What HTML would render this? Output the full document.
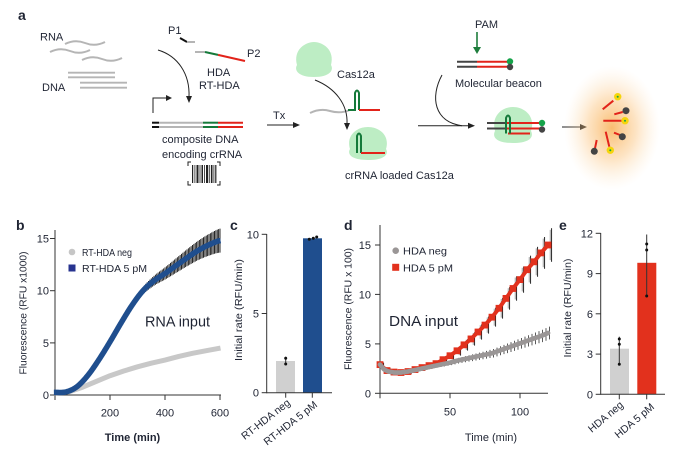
<!DOCTYPE html>
<html><head><meta charset="utf-8"><style>
html,body{margin:0;padding:0;background:#fff;}
svg{display:block;font-family:"Liberation Sans",sans-serif;}
text{fill:#1f2433;}
</style></head><body>
<svg id="s" xmlns="http://www.w3.org/2000/svg" width="673" height="455" viewBox="0 0 673 455">
<defs>
<radialGradient id="glow" cx="0.5" cy="0.5" r="0.5">
<stop offset="0" stop-color="#f7a640" stop-opacity="0.75"/>
<stop offset="0.5" stop-color="#fbc27a" stop-opacity="0.45"/>
<stop offset="1" stop-color="#fde3c0" stop-opacity="0"/>
</radialGradient>
</defs>
<rect width="673" height="455" fill="#fff"/>

<!-- ===== Panel a ===== -->
<text x="18" y="20" font-size="14" font-weight="bold">a</text>
<text x="40" y="40.5" font-size="11">RNA</text>
<text x="42" y="91" font-size="11">DNA</text>
<g fill="none" stroke="#b5b5b5" stroke-width="2">
<path d="M65,44 Q75,39 85,43 T105,42"/>
<path d="M50,52 Q60,47 70,51 T90,50"/>
<path d="M82,60 Q92,55 102,59 T122,58"/>
<path d="M310,113 Q320,108 330,111 T350,110"/>
</g>
<g stroke="#b5b5b5" stroke-width="1.8">
<line x1="68" y1="72.7" x2="115" y2="72.7"/><line x1="68" y1="77.3" x2="115" y2="77.3"/>
<line x1="80" y1="82.7" x2="127" y2="82.7"/><line x1="80" y1="87.7" x2="127" y2="87.7"/>
</g>
<text x="168" y="34" font-size="11">P1</text>
<line x1="180" y1="38" x2="187" y2="42" stroke="#111" stroke-width="2"/>
<line x1="187" y1="42" x2="195" y2="42" stroke="#b5b5b5" stroke-width="2"/>
<line x1="195" y1="52" x2="205" y2="52" stroke="#b5b5b5" stroke-width="2"/>
<line x1="205" y1="52" x2="218" y2="54.9" stroke="#157a3a" stroke-width="2"/>
<line x1="218" y1="54.9" x2="245" y2="61" stroke="#e2231a" stroke-width="2"/>
<text x="247" y="57" font-size="11">P2</text>
<text x="207" y="76" font-size="11">HDA</text>
<text x="199" y="89" font-size="11">RT-HDA</text>
<path d="M158,50 C178,56 190,74 189,97" fill="none" stroke="#222" stroke-width="1"/>
<path d="M186,96 L189,103 L192,96 Z" fill="#222"/>
<path d="M153,113 V98 H167" fill="none" stroke="#222" stroke-width="1"/>
<path d="M166,95 L172,98 L166,101 Z" fill="#222"/>
<g stroke-width="2">
<line x1="152" y1="122.7" x2="159" y2="122.7" stroke="#111"/><line x1="152" y1="127" x2="159" y2="127" stroke="#111"/>
<line x1="159" y1="122.7" x2="203" y2="122.7" stroke="#b5b5b5"/><line x1="159" y1="127" x2="203" y2="127" stroke="#b5b5b5"/>
<line x1="203" y1="122.7" x2="218" y2="122.7" stroke="#157a3a"/><line x1="203" y1="127" x2="218" y2="127" stroke="#157a3a"/>
<line x1="218" y1="122.7" x2="243" y2="122.7" stroke="#e2231a"/><line x1="218" y1="127" x2="243" y2="127" stroke="#e2231a"/>
</g>
<text x="162" y="143" font-size="11">composite DNA</text>
<text x="162" y="158" font-size="11">encoding crRNA</text>
<g stroke="#222" stroke-width="1" fill="none">
<path d="M188,166 V162 H191"/><path d="M217,162 H220 V166"/><path d="M188,181 V185 H191"/><path d="M217,185 H220 V181"/>
</g>
<g fill="#222">
<rect x="192" y="165" width="1.2" height="18"/><rect x="194.5" y="165" width="0.8" height="18"/><rect x="196.5" y="165" width="2" height="18"/>
<rect x="199.6" y="165" width="0.8" height="18"/><rect x="201.5" y="165" width="1.5" height="18"/><rect x="204" y="165" width="0.8" height="18"/>
<rect x="206" y="165" width="2.2" height="18"/><rect x="209.3" y="165" width="0.8" height="18"/><rect x="211" y="165" width="1.5" height="18"/>
<rect x="213.5" y="165" width="0.8" height="18"/><rect x="215.2" y="165" width="1.2" height="18"/>
</g>
<text x="273" y="119" font-size="11">Tx</text>
<line x1="267" y1="125" x2="295" y2="125" stroke="#222" stroke-width="1"/>
<path d="M293,122 L300,125 L293,128 Z" fill="#222"/>

<!-- Cas12a blob -->
<path d="M297,65 C293,50 305,42 314,42 C323,42 335,50 331,65 C334,70 330,77 314,77 C298,77 294,70 297,65 Z" fill="#bdedc4"/>
<text x="337" y="78" font-size="11">Cas12a</text>
<path d="M315,80 C335,88 348,104 347,124" fill="none" stroke="#222" stroke-width="1"/>
<path d="M344,123 L347,130 L350,123 Z" fill="#222"/>
<path d="M348,110 H355 V93 Q357,88 359,93 V110" fill="none" stroke="#157a3a" stroke-width="2"/>
<line x1="359" y1="110" x2="380" y2="110" stroke="#e2231a" stroke-width="2"/>
<path d="M350,149 C346,136 356,127 368,127 C380,127 390,136 386,149 C389,154 385,160 368,160 C351,160 347,154 350,149 Z" fill="#bdedc4"/>
<path d="M357,153 V136 Q359,131 361,136 V153" fill="none" stroke="#157a3a" stroke-width="2"/>
<line x1="361" y1="153" x2="385" y2="153" stroke="#e2231a" stroke-width="2"/>
<text x="345" y="179" font-size="11">crRNA loaded Cas12a</text>

<!-- arrow with curve -->
<line x1="418" y1="125.7" x2="470" y2="125.7" stroke="#222" stroke-width="1"/>
<path d="M468,122.7 L475,125.7 L468,128.7 Z" fill="#222"/>
<path d="M442,75 C430,97 434,122 462,125.7" fill="none" stroke="#222" stroke-width="1"/>

<!-- PAM + beacon -->
<text x="475" y="28" font-size="11">PAM</text>
<line x1="477" y1="32" x2="477" y2="49" stroke="#1e7d3c" stroke-width="1.6"/>
<path d="M473,47 L477,54 L481,47 Z" fill="#1e7d3c"/>
<g stroke-width="2">
<line x1="457" y1="61.7" x2="477" y2="61.7" stroke="#444"/><line x1="477" y1="61.7" x2="508" y2="61.7" stroke="#e2231a"/>
<line x1="457" y1="66.7" x2="477" y2="66.7" stroke="#444"/><line x1="477" y1="66.7" x2="508" y2="66.7" stroke="#e2231a"/>
</g>
<circle cx="510" cy="61.5" r="3.2" fill="#16a34a"/>
<circle cx="510" cy="67" r="3.2" fill="#444"/>
<text x="455" y="87" font-size="11">Molecular beacon</text>

<!-- complex -->
<path d="M495,131 C491,116 502,107 513,107 C524,107 536,116 531,131 C534,137 530,143 513,143 C496,143 492,137 495,131 Z" fill="#bdedc4"/>
<g stroke-width="2">
<line x1="487" y1="123" x2="507" y2="123" stroke="#444"/><line x1="487" y1="128.5" x2="507" y2="128.5" stroke="#444"/>
<line x1="507" y1="123" x2="540" y2="123" stroke="#e2231a"/><line x1="507" y1="128.5" x2="540" y2="128.5" stroke="#e2231a"/>
<line x1="508" y1="133.5" x2="530" y2="133.5" stroke="#e2231a"/>
</g>
<path d="M506,133.5 V118 Q508,113 510,118 V133.5" fill="none" stroke="#157a3a" stroke-width="2"/>
<circle cx="542" cy="123" r="3.2" fill="#16a34a"/>
<circle cx="542" cy="129.5" r="3.2" fill="#444"/>
<line x1="562" y1="127" x2="582" y2="127" stroke="#222" stroke-width="1"/>
<path d="M580,124 L587,127 L580,130 Z" fill="#222"/>

<!-- glow + fragments -->
<ellipse cx="612" cy="128" rx="48" ry="62" fill="url(#glow)"/>
<g stroke="#e2231a" stroke-width="2">
<line x1="602.7" y1="109.3" x2="613.3" y2="100.7"/>
<line x1="614.3" y1="114.3" x2="622.7" y2="112"/>
<line x1="603.3" y1="120.7" x2="621.7" y2="120.7"/>
<line x1="605.7" y1="131.7" x2="609.3" y2="146.7"/>
<line x1="614" y1="132.7" x2="620" y2="135"/>
<line x1="596.7" y1="140" x2="595" y2="148.3"/>
</g>
<g fill="#f5d50c"><circle cx="617.7" cy="96.7" r="3.7"/><circle cx="625" cy="120.7" r="3.7"/><circle cx="610.3" cy="150.3" r="3.7"/></g>
<g fill="#16a34a"><circle cx="617.7" cy="96.7" r="1"/><circle cx="625" cy="120.7" r="1"/><circle cx="610.3" cy="150.3" r="1"/></g>
<g fill="#444"><circle cx="626" cy="110.7" r="3.5"/><circle cx="622.3" cy="136.7" r="3.5"/><circle cx="594.3" cy="151.3" r="3.5"/></g>

<!-- ===== Panel b ===== -->
<text x="16" y="230" font-size="14" font-weight="bold">b</text>
<g stroke="#333" stroke-width="1">
<line x1="55" y1="230" x2="55" y2="395.5"/>
<line x1="55" y1="395" x2="221" y2="395"/>
<line x1="50" y1="238.5" x2="55" y2="238.5"/><line x1="50" y1="290.7" x2="55" y2="290.7"/>
<line x1="50" y1="342.9" x2="55" y2="342.9"/><line x1="50" y1="395" x2="55" y2="395"/>
<line x1="55" y1="395" x2="55" y2="400"/><line x1="110" y1="395" x2="110" y2="400"/>
<line x1="165" y1="395" x2="165" y2="400"/><line x1="220" y1="395" x2="220" y2="400"/>
</g>
<g font-size="11" text-anchor="end">
<text x="49" y="242.5">15</text><text x="49" y="294.7">10</text><text x="49" y="346.9">5</text><text x="49" y="399">0</text>
</g>
<g font-size="11" text-anchor="middle">
<text x="110" y="416.5">200</text><text x="165" y="416.5">400</text><text x="220" y="416.5">600</text>
</g>
<text x="132.5" y="441" font-size="11" font-weight="bold" text-anchor="middle">Time (min)</text>
<text transform="translate(26.5,313) rotate(-90)" font-size="10.5" text-anchor="middle" textLength="123" lengthAdjust="spacingAndGlyphs">Fluorescence (RFU x1000)</text>
<circle cx="72" cy="252" r="3.3" fill="#c6c6c6"/>
<rect x="68.5" y="264.5" width="7" height="7" fill="#27338f"/>
<text x="82" y="256" font-size="10.5" textLength="50" lengthAdjust="spacingAndGlyphs">RT-HDA neg</text>
<text x="82" y="272" font-size="10.5" textLength="65" lengthAdjust="spacingAndGlyphs">RT-HDA 5 pM</text>
<text x="145" y="326.5" font-size="15" textLength="65" lengthAdjust="spacingAndGlyphs">RNA input</text>
<polyline fill="none" stroke="#c8c8c8" stroke-width="5" stroke-linejoin="round" points="54,392.9 68.75,391.9 82.5,387.2 96.25,381.4 110,375.7 123.75,371.0 137.5,366.8 151.25,363.2 165,360.1 178.75,356.4 192.5,353.3 206.25,350.7 220.5,348.1"/>
<g id="bErr"></g>
<polyline id="blueLine" fill="none" stroke="#1f4e8e" stroke-width="5.5" stroke-linejoin="round" points="54,392.4 66,391.9 77,386.7 88,375.2 99,359.5 110,341.8 121,323.0 132,305.3 143,290.7 154,281.3 165,274.0 176,265.7 187,257.3 198,250.0 209,244.8 220.5,240.6"/>

<!-- ===== Panel c ===== -->
<text x="230" y="230" font-size="14" font-weight="bold">c</text>
<rect x="276" y="361" width="19" height="31.7" fill="#d0d0d0"/>
<rect x="303" y="238.3" width="19" height="154.4" fill="#1f4e8e"/>
<g stroke="#333" stroke-width="1">
<line x1="266.7" y1="234" x2="266.7" y2="393.2"/>
<line x1="266.7" y1="392.7" x2="332" y2="392.7"/>
<line x1="261.7" y1="234.3" x2="266.7" y2="234.3"/><line x1="261.7" y1="313.5" x2="266.7" y2="313.5"/><line x1="261.7" y1="392.7" x2="266.7" y2="392.7"/>
<line x1="285.7" y1="392.7" x2="285.7" y2="397.7"/><line x1="312.3" y1="392.7" x2="312.3" y2="397.7"/>
<line x1="285.7" y1="356.7" x2="285.7" y2="365"/>
</g>
<g fill="#111"><circle cx="285.7" cy="358.3" r="1.5"/><circle cx="285.7" cy="364" r="1.5"/>
<circle cx="309.3" cy="239.3" r="1.5"/><circle cx="313.3" cy="238.3" r="1.5"/><circle cx="316.7" cy="237" r="1.5"/></g>
<g font-size="11" text-anchor="end">
<text x="259" y="238.3">10</text><text x="259" y="317.5">5</text><text x="259" y="396.7">0</text>
</g>
<text transform="translate(242,310) rotate(-90)" font-size="10.5" text-anchor="middle" textLength="102" lengthAdjust="spacingAndGlyphs">Initial rate (RFU/min)</text>
<text transform="translate(291,404) rotate(-38)" font-size="10.5" text-anchor="end">RT-HDA neg</text>
<text transform="translate(318,406) rotate(-38)" font-size="10.5" text-anchor="end">RT-HDA 5 pM</text>

<!-- ===== Panel d ===== -->
<text x="344" y="230" font-size="14" font-weight="bold">d</text>
<g stroke="#333" stroke-width="1">
<line x1="380" y1="225" x2="380" y2="393.8"/>
<line x1="380" y1="393.3" x2="548" y2="393.3"/>
<line x1="375" y1="245" x2="380" y2="245"/><line x1="375" y1="294.4" x2="380" y2="294.4"/>
<line x1="375" y1="343.9" x2="380" y2="343.9"/><line x1="375" y1="393.3" x2="380" y2="393.3"/>
<line x1="380" y1="393.3" x2="380" y2="398.3"/><line x1="450" y1="393.3" x2="450" y2="398.3"/><line x1="520" y1="393.3" x2="520" y2="398.3"/>
</g>
<g font-size="11" text-anchor="end">
<text x="371" y="249">15</text><text x="371" y="298.4">10</text><text x="371" y="347.9">5</text><text x="371" y="397.3">0</text>
</g>
<g font-size="11" text-anchor="middle">
<text x="450" y="415.5">50</text><text x="520" y="415.5">100</text>
</g>
<text x="491" y="441" font-size="11" text-anchor="middle">Time (min)</text>
<text transform="translate(351.5,309) rotate(-90)" font-size="10.5" text-anchor="middle" textLength="122" lengthAdjust="spacingAndGlyphs">Fluorescence (RFU x 100)</text>
<circle cx="395.7" cy="250.7" r="3.3" fill="#9a9696"/>
<rect x="392.2" y="263.8" width="7" height="7" fill="#e2311d"/>
<text x="403" y="254.7" font-size="10.5" textLength="44" lengthAdjust="spacingAndGlyphs">HDA neg</text>
<text x="403" y="271.3" font-size="10.5" textLength="50" lengthAdjust="spacingAndGlyphs">HDA 5 pM</text>
<text x="389" y="326" font-size="15" textLength="69" lengthAdjust="spacingAndGlyphs">DNA input</text>
<g id="dErr"></g>
<polyline id="redLine" fill="none" stroke="#e2311d" stroke-width="6" stroke-linejoin="miter" points="380,364.6 387,370.6 394,372.0 401,372.5 408,371.5 415,369.6 422,367.6 429,365.6 436,363.6 443,359.7 450,355.7 457,350.8 464,344.9 471,338.9 478,332.0 485,325.1 492,317.2 499,308.3 506,298.4 513,288.5 520,279.6 527,269.7 534,261.8 541,252.9 548,245.0"/>
<g id="redSq"></g>
<g id="grErr"></g>
<polyline id="grayLine" fill="none" stroke="#9a9696" stroke-width="4.5" stroke-linejoin="round" stroke-linecap="round" points="380,364.6 384.2,369.6 388.4,371.5 394,372.5 401,372.5 408,371.5 415,370.1 422,368.6 429,367.1 436,365.6 443,364.1 450,362.7 457,360.7 464,359.2 471,357.7 478,356.2 485,354.7 492,353.3 499,350.8 506,348.3 513,345.8 520,343.4 527,340.9 534,338.4 541,336.0 548,333.0"/>
<g id="grDots"></g>

<!-- ===== Panel e ===== -->
<text x="559" y="230" font-size="14" font-weight="bold">e</text>
<rect x="610" y="348.7" width="19" height="45.6" fill="#d0d0d0"/>
<rect x="637.3" y="262.8" width="19" height="131.5" fill="#e2311d"/>
<g stroke="#333" stroke-width="1">
<line x1="600.7" y1="233" x2="600.7" y2="394.8"/>
<line x1="600.7" y1="394.3" x2="665" y2="394.3"/>
<line x1="595.7" y1="233.3" x2="600.7" y2="233.3"/><line x1="595.7" y1="273.6" x2="600.7" y2="273.6"/>
<line x1="595.7" y1="313.8" x2="600.7" y2="313.8"/><line x1="595.7" y1="354.1" x2="600.7" y2="354.1"/><line x1="595.7" y1="394.3" x2="600.7" y2="394.3"/>
<line x1="619.3" y1="394.3" x2="619.3" y2="399.3"/><line x1="646.7" y1="394.3" x2="646.7" y2="399.3"/>
<line x1="619.3" y1="336.7" x2="619.3" y2="364.3"/>
<line x1="646.7" y1="234.5" x2="646.7" y2="296"/>
</g>
<g fill="#111"><circle cx="619.3" cy="339" r="1.5"/><circle cx="619.3" cy="344.3" r="1.5"/><circle cx="619.3" cy="364.3" r="1.5"/>
<circle cx="646.7" cy="244" r="1.5"/><circle cx="646.7" cy="250" r="1.5"/><circle cx="646.7" cy="296" r="1.5"/></g>
<g font-size="11" text-anchor="end">
<text x="593" y="237.3">12</text><text x="593" y="277.6">9</text><text x="593" y="317.8">6</text><text x="593" y="358.1">3</text><text x="593" y="398.3">0</text>
</g>
<text transform="translate(571,308) rotate(-90)" font-size="10.5" text-anchor="middle" textLength="99" lengthAdjust="spacingAndGlyphs">Initial rate (RFU/min)</text>
<text transform="translate(624,406) rotate(-40)" font-size="10.5" text-anchor="end">HDA neg</text>
<text transform="translate(655,408) rotate(-40)" font-size="10.5" text-anchor="end">HDA 5 pM</text>
</svg>
<script>
(function(){
var NS="http://www.w3.org/2000/svg";
function el(tag,a,p){var e=document.createElementNS(NS,tag);for(var k in a)e.setAttribute(k,a[k]);p.appendChild(e);return e;}
function interp(P,t){for(var i=0;i<P.length-1;i++){if(t<=P[i+1][0]){var f=(t-P[i][0])/(P[i+1][0]-P[i][0]);return P[i][1]+f*(P[i+1][1]-P[i][1]);}}return P[P.length-1][1];}
function cr(P,t){ // catmull-rom on uniform-ish grid
  var n=P.length;for(var i=0;i<n-1;i++){if(t<=P[i+1][0])break;}if(i>=n-1)i=n-2;
  var p0=P[Math.max(i-1,0)][1],p1=P[i][1],p2=P[i+1][1],p3=P[Math.min(i+2,n-1)][1];
  var u=(t-P[i][0])/(P[i+1][0]-P[i][0]);var u2=u*u,u3=u2*u;
  return 0.5*((2*p1)+(-p0+p2)*u+(2*p0-5*p1+4*p2-p3)*u2+(-p0+3*p1-3*p2+p3)*u3);}
// panel b
var B=[[0,.25],[40,.3],[80,.8],[120,1.9],[160,3.4],[200,5.1],[240,6.9],[280,8.6],[320,10],[360,10.95],[400,11.65],[440,12.4],[480,13.15],[520,13.85],[560,14.4],[600,14.8]];
var pts=[];for(var tt=-4;tt<=602;tt+=2){var vv=cr(B,Math.max(0,tt));pts.push((55+0.275*tt).toFixed(2)+','+(395-10.43*vv).toFixed(2));}
document.getElementById('blueLine').setAttribute('points',pts.join(' '));
var g=document.getElementById('bErr');
for(var t=300;t<=602;t+=5){var v=cr(B,t);var x=55+0.275*t,y=395-10.43*v;var h=(0.3+(t-300)/300*0.85)*10.43;
el('line',{x1:x,y1:y-h,x2:x,y2:y+h,stroke:'#111','stroke-width':0.9},g);}
// panel d red
var R=[[0,2.9],[5,2.3],[10,2.15],[15,2.1],[20,2.2],[25,2.4],[30,2.6],[35,2.8],[40,3.0],[45,3.4],[50,3.8],[55,4.3],[60,4.9],[65,5.5],[70,6.2],[75,6.9],[80,7.7],[85,8.6],[90,9.6],[95,10.6],[100,11.5],[105,12.5],[110,13.3],[115,14.2],[120,15.0]];
var ge=document.getElementById('dErr'),gs=document.getElementById('redSq');
document.getElementById('redLine').setAttribute('stroke-width','4');
R.forEach(function(p){var t=p[0],x=380+1.4*t,y=393.3-9.887*p[1];var h=(t>=45?(0.3+(t-45)/75*1.4):0.2)*9.887;
el('line',{x1:x+3.6,y1:y-h,x2:x+3.6,y2:y+h,stroke:'#111','stroke-width':0.9},ge);
el('line',{x1:x+2.2,y1:y-h*0.9,x2:x+2.2,y2:y+h*0.9,stroke:'#888','stroke-width':0.8},ge);
el('rect',{x:x-3.4,y:y-3.4,width:6.8,height:6.8,fill:'#e2311d'},gs);});
// panel d gray
var G=[[0,2.9],[3,2.4],[6,2.2],[10,2.1],[15,2.1],[20,2.2],[25,2.35],[30,2.5],[35,2.65],[40,2.8],[45,2.95],[50,3.1],[55,3.3],[60,3.45],[65,3.6],[70,3.75],[75,3.9],[80,4.05],[85,4.3],[90,4.55],[95,4.8],[100,5.05],[105,5.3],[110,5.55],[115,5.8],[120,6.1]];
var gg=document.getElementById('grErr'),gd=document.getElementById('grDots');
for(var t2=0;t2<=120.01;t2+=2.5){var v2=interp(G,t2),x2=380+1.4*t2,y2=393.3-9.887*v2;var h2=(t2>=40?(0.2+(t2-40)/80*0.45):0.12)*9.887;
el('line',{x1:x2+1.5,y1:y2-h2,x2:x2+1.5,y2:y2+h2,stroke:'#333','stroke-width':0.8},gg);}
for(var t3=0;t3<=120.01;t3+=1.25){var v3=interp(G,t3);el('circle',{cx:380+1.4*t3,cy:393.3-9.887*v3,r:2.3,fill:'#9a9696'},gd);}
})();
</script>
</body></html>
